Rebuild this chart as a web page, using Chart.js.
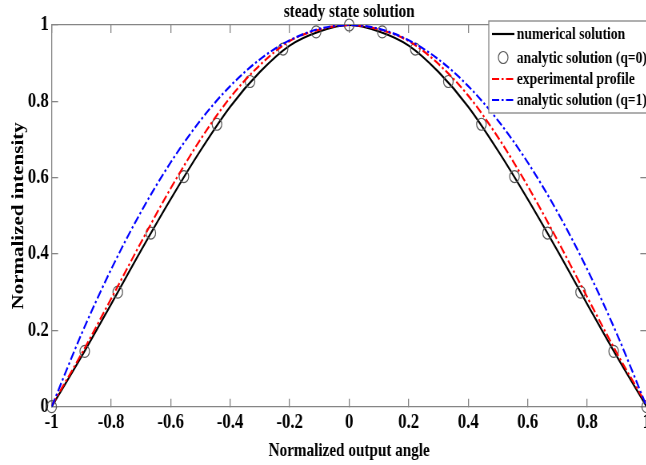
<!DOCTYPE html>
<html>
<head>
<meta charset="utf-8">
<script src="https://cdn.jsdelivr.net/npm/chart.js@4.4.1/dist/chart.umd.min.js"></script>
<style>
  html, body { margin: 0; padding: 0; background: #fff; overflow: hidden; }
  /* the reference is squeezed horizontally, so draw wide and squeeze */
  #wrap { width: 873px; height: 465px; transform: scaleX(0.8); transform-origin: 0 0; }
</style>
</head>
<body>
<div id="wrap"><canvas id="chart" width="873" height="465"></canvas></div>
<script>
// --- Data ---
const angle = [-1, -0.9, -0.8, -0.7, -0.6, -0.5, -0.4, -0.3, -0.2, -0.1, 0,
               0.1, 0.2, 0.3, 0.4, 0.5, 0.6, 0.7, 0.8, 0.9, 1];
const numerical = [0, 0.131, 0.269, 0.409, 0.544, 0.671, 0.786, 0.877, 0.946, 0.983, 1,
                   0.983, 0.946, 0.877, 0.786, 0.671, 0.544, 0.409, 0.269, 0.131, 0];
const experimental = [0.003, 0.138, 0.283, 0.43, 0.572, 0.70, 0.81, 0.895, 0.958, 0.988, 1,
                      0.988, 0.958, 0.898, 0.815, 0.706, 0.578, 0.436, 0.287, 0.14, 0.005];
const analyticQ1 = [0, 0.19, 0.36, 0.51, 0.64, 0.75, 0.84, 0.91, 0.96, 0.99, 1,
                    0.99, 0.96, 0.91, 0.84, 0.75, 0.64, 0.51, 0.36, 0.19, 0];

const circleAngle = [-1, -0.8889, -0.7778, -0.6667, -0.5556, -0.4444, -0.3333, -0.2222, -0.1111, 0,
                     0.1111, 0.2222, 0.3333, 0.4444, 0.5556, 0.6667, 0.7778, 0.8889, 1];
const analyticQ0 = [0, 0.145, 0.30, 0.455, 0.603, 0.74, 0.852, 0.937, 0.982, 1,
                    0.982, 0.937, 0.852, 0.74, 0.603, 0.455, 0.30, 0.145, 0];

const xTicks = [-1, -0.8, -0.6, -0.4, -0.2, 0, 0.2, 0.4, 0.6, 0.8, 1];
const yTicks = [0, 0.2, 0.4, 0.6, 0.8, 1];

const serif = '"Liberation Serif", "Times New Roman", serif';
const axisGray = '#858585';

function pts(xs, ys) {
    return xs.map((x, i) => ({ x: x, y: ys[i] }));
}

// --- Boxed legend in the top right corner, like the original ---
const boxLegend = {
    id: 'boxLegend',
    afterDraw(chart) {
        const ctx = chart.ctx;
        const left = 611, top = 21, bottom = 113, right = 880;
        const rows = [34, 57.5, 79, 100];
        ctx.save();
        ctx.fillStyle = '#fff';
        ctx.fillRect(left, top, right - left, bottom - top);
        ctx.strokeStyle = axisGray;
        ctx.lineWidth = 1.3;
        ctx.strokeRect(left, top, right - left, bottom - top);

        chart.data.datasets.forEach((ds, i) => {
            const y = rows[i];
            if (ds.showLine) {
                ctx.strokeStyle = ds.borderColor;
                ctx.lineWidth = ds.borderWidth;
                ctx.setLineDash(ds.borderDash || []);
                ctx.beginPath();
                ctx.moveTo(615, y);
                ctx.lineTo(643, y);
                ctx.stroke();
                ctx.setLineDash([]);
            } else {
                ctx.strokeStyle = ds.pointBorderColor;
                ctx.lineWidth = ds.pointBorderWidth;
                ctx.beginPath();
                ctx.arc(629, y, ds.pointRadius, 0, Math.PI * 2);
                ctx.stroke();
            }
            ctx.fillStyle = '#000';
            ctx.font = 'bold 17px ' + serif;
            ctx.textBaseline = 'middle';
            ctx.textAlign = 'left';
            ctx.fillText(ds.label, 646, y + 1);
        });
        ctx.restore();
    }
};

function boxAxis(pos, ticks) {
    const horiz = pos === 'top' || pos === 'bottom';
    return {
        type: 'linear',
        position: pos,
        min: horiz ? -1 : 0,
        max: 1,
        afterBuildTicks: s => { s.ticks = ticks.map(v => ({ value: v })); },
        afterFit: s => {
            if (pos === 'top') s.height = 0;
            if (pos === 'bottom') s.height = 58.3;
            if (pos === 'left' || pos === 'right') s.width = 64.6;
        },
        grid: { drawOnChartArea: false, drawTicks: true, tickLength: -8, color: axisGray, lineWidth: 1.3 },
        border: { color: axisGray, width: 1.3 },
        ticks: {
            display: pos === 'bottom' || pos === 'left',
            color: '#000',
            autoSkip: false,
            maxRotation: 0,
            padding: horiz ? 11.2 : 11.6,
            font: { family: serif, size: 21, weight: 'bold', lineHeight: 1.2 },
            callback: v => String(v)
        }
    };
}

const xAxis = boxAxis('bottom', xTicks);
xAxis.title = {
    display: true, text: 'Normalized output angle', color: '#000',
    font: { family: serif, size: 19, weight: 'bold', lineHeight: 1.2 },
    padding: { top: 0, bottom: 3 }
};
const yAxis = boxAxis('left', yTicks);
yAxis.title = {
    display: true, text: 'Normalized intensity', color: '#000',
    font: { family: serif, size: 21, weight: 'bold', lineHeight: 1.2 },
    padding: { top: 11, bottom: 0 }
};

new Chart(document.getElementById('chart'), {
    type: 'scatter',
    data: {
        datasets: [
            {
                label: 'numerical solution',
                data: pts(angle, numerical),
                showLine: true,
                borderColor: '#000',
                borderWidth: 2.2,
                pointRadius: 0,
                cubicInterpolationMode: 'monotone',
                order: 4
            },
            {
                label: 'analytic solution (q=0)',
                data: pts(circleAngle, analyticQ0),
                showLine: false,
                pointStyle: 'circle',
                pointRadius: 6,
                pointBorderColor: '#555',
                pointBackgroundColor: 'rgba(0,0,0,0)',
                pointBorderWidth: 1.2,
                clip: false,
                order: 3
            },
            {
                label: 'experimental profile',
                data: pts(angle, experimental),
                showLine: true,
                borderColor: '#ff0000',
                borderWidth: 2.2,
                borderDash: [9, 3, 2.5, 3],
                pointRadius: 0,
                cubicInterpolationMode: 'monotone',
                order: 2
            },
            {
                label: 'analytic solution (q=1)',
                data: pts(angle, analyticQ1),
                showLine: true,
                borderColor: '#0000ff',
                borderWidth: 2.2,
                borderDash: [9, 3, 2.5, 3],
                pointRadius: 0,
                cubicInterpolationMode: 'monotone',
                order: 1
            }
        ]
    },
    options: {
        responsive: false,
        animation: false,
        layout: { padding: 0 },
        scales: {
            x: xAxis,
            x2: boxAxis('top', xTicks),
            y: yAxis,
            y2: boxAxis('right', yTicks)
        },
        plugins: {
            legend: { display: false },
            tooltip: { enabled: false },
            title: {
                display: true,
                text: 'steady state solution',
                color: '#000',
                font: { family: serif, size: 19, weight: 'bold', lineHeight: 1.2 },
                padding: { top: 1, bottom: 1.2 }
            }
        }
    },
    plugins: [boxLegend]
});
</script>
</body>
</html>
